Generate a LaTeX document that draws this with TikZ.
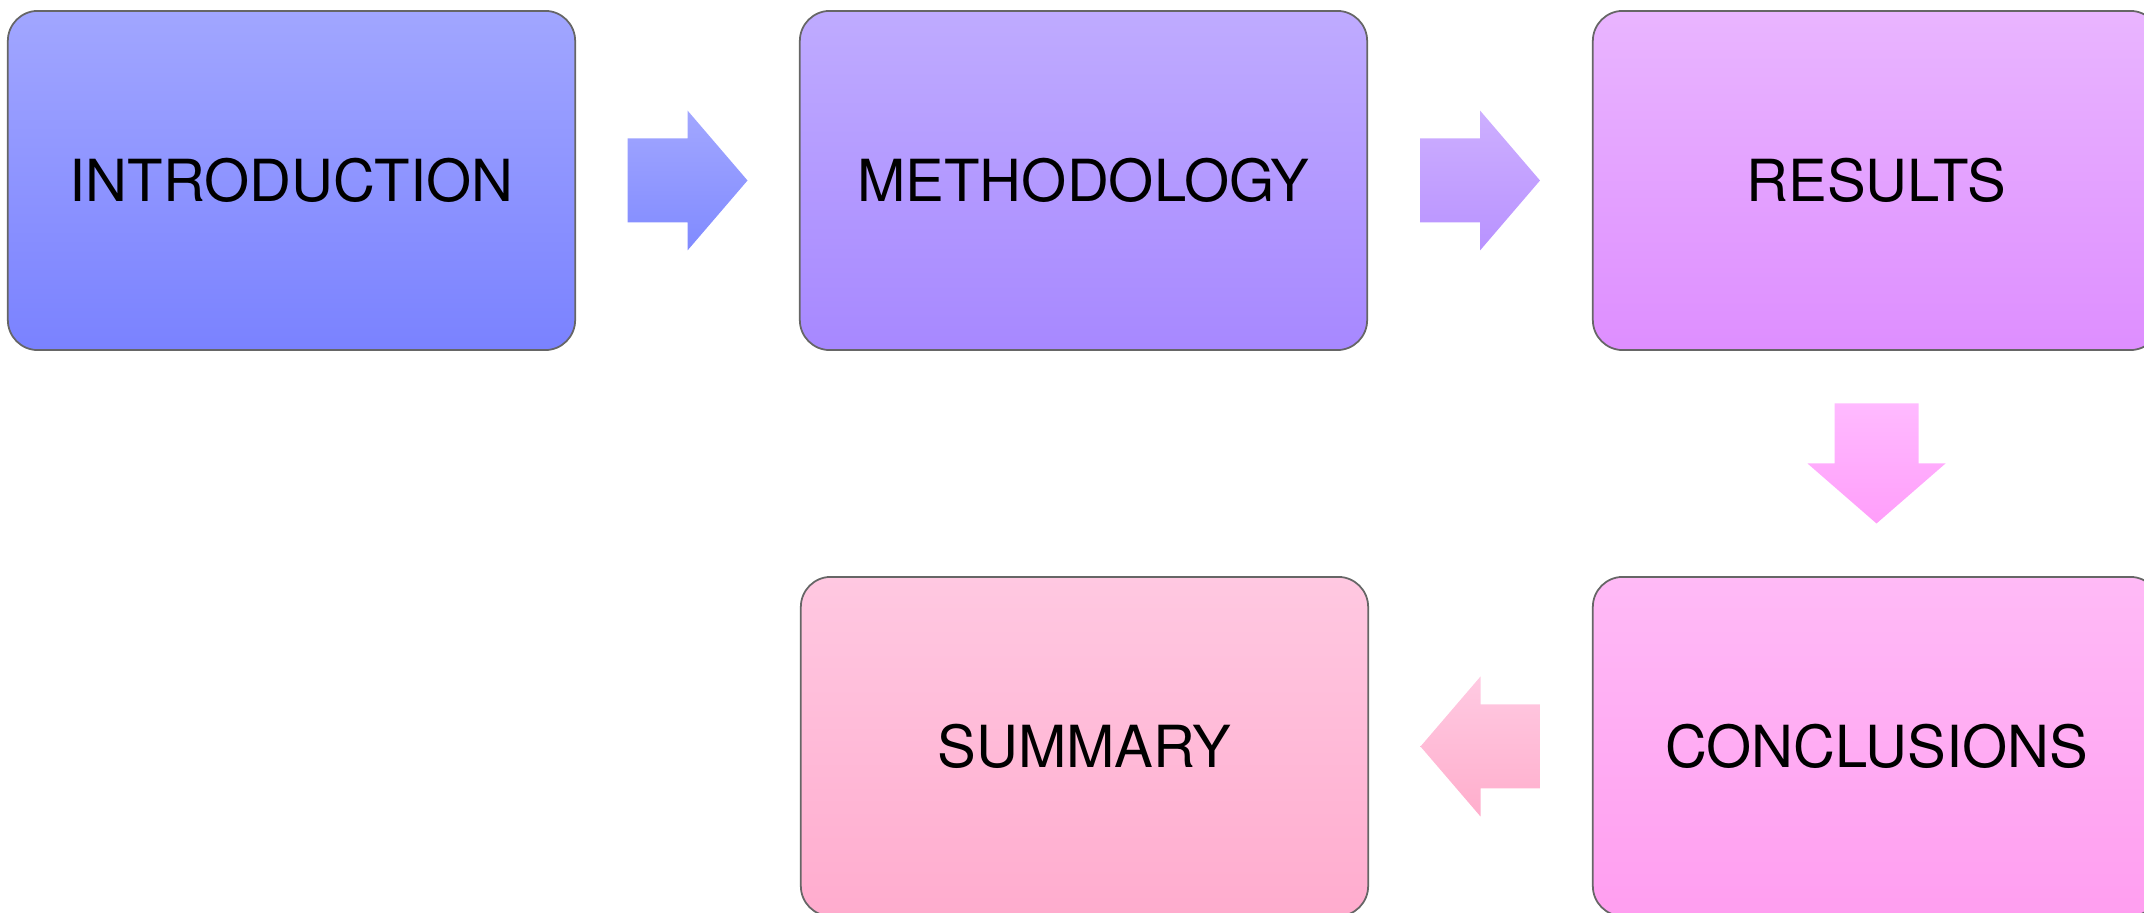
\documentclass[tikz,border=0pt]{standalone}
\usepackage{fontspec}
\setmainfont{TeX Gyre Heros}
\usetikzlibrary{calc}

\definecolor{introtop}{RGB}{161,166,255}
\definecolor{introbot}{RGB}{122,130,255}
\definecolor{methtop}{RGB}{191,171,255}
\definecolor{methbot}{RGB}{167,136,255}
\definecolor{restop}{RGB}{233,181,255}
\definecolor{resbot}{RGB}{222,142,255}
\definecolor{conctop}{RGB}{255,186,246}
\definecolor{concbot}{RGB}{255,158,240}
\definecolor{sumtop}{RGB}{255,200,225}
\definecolor{sumbot}{RGB}{255,172,206}

\tikzset{
	stagebox/.style={draw=black!60, line width=0.5pt, rounded corners=0.3cm,
		minimum width=5.67cm, minimum height=3.39cm, inner sep=0pt,
		font=\fontsize{16.5}{20}\selectfont},
}

\begin{document}
\begin{tikzpicture}[x=0.01cm, y=-0.01cm]
\useasboundingbox (0,0) rectangle (2144,913);

\node[stagebox, top color=introtop, bottom color=introbot] (intro) at (291.5,180.5) {INTRODUCTION};
\node[stagebox, top color=methtop, bottom color=methbot] (method) at (1083.5,180.5) {METHODOLOGY};
\node[stagebox, top color=restop, bottom color=resbot] (results) at (1876.5,180.5) {RESULTS};
\node[stagebox, top color=conctop, bottom color=concbot] (concl) at (1876.5,746.5) {CONCLUSIONS};
\node[stagebox, top color=sumtop, bottom color=sumbot] (summary) at (1084.5,746.5) {SUMMARY};

\coordinate (a1) at ($(intro.east)!0.5!(method.west)$);
\coordinate (a2) at ($(method.east)!0.5!(results.west)$);
\coordinate (a3) at ($(results.south)!0.5!(concl.north)$);
\coordinate (a4) at ($(concl.west)!0.5!(summary.east)$);

\path[shift={(a1)}, top color={rgb,255:red,162;green,167;blue,255}, bottom color={rgb,255:red,128;green,138;blue,255}]
	(-60,-42) -- (0,-42) -- (0,-70) -- (60,0) -- (0,70) -- (0,42) -- (-60,42) -- cycle;
\path[shift={(a2)}, top color={rgb,255:red,205;green,175;blue,255}, bottom color={rgb,255:red,184;green,146;blue,255}]
	(-60,-42) -- (0,-42) -- (0,-70) -- (60,0) -- (0,70) -- (0,42) -- (-60,42) -- cycle;
\path[shift={(a3)}, top color={rgb,255:red,255;green,186;blue,255}, bottom color={rgb,255:red,255;green,158;blue,250}]
	(-42,-60) -- (42,-60) -- (42,0) -- (69,0) -- (0,60) -- (-69,0) -- (-42,0) -- cycle;
\path[shift={(a4)}, top color={rgb,255:red,255;green,202;blue,226}, bottom color={rgb,255:red,255;green,174;blue,204}]
	(60,-42) -- (0,-42) -- (0,-70) -- (-60,0) -- (0,70) -- (0,42) -- (60,42) -- cycle;
\end{tikzpicture}
\end{document}
